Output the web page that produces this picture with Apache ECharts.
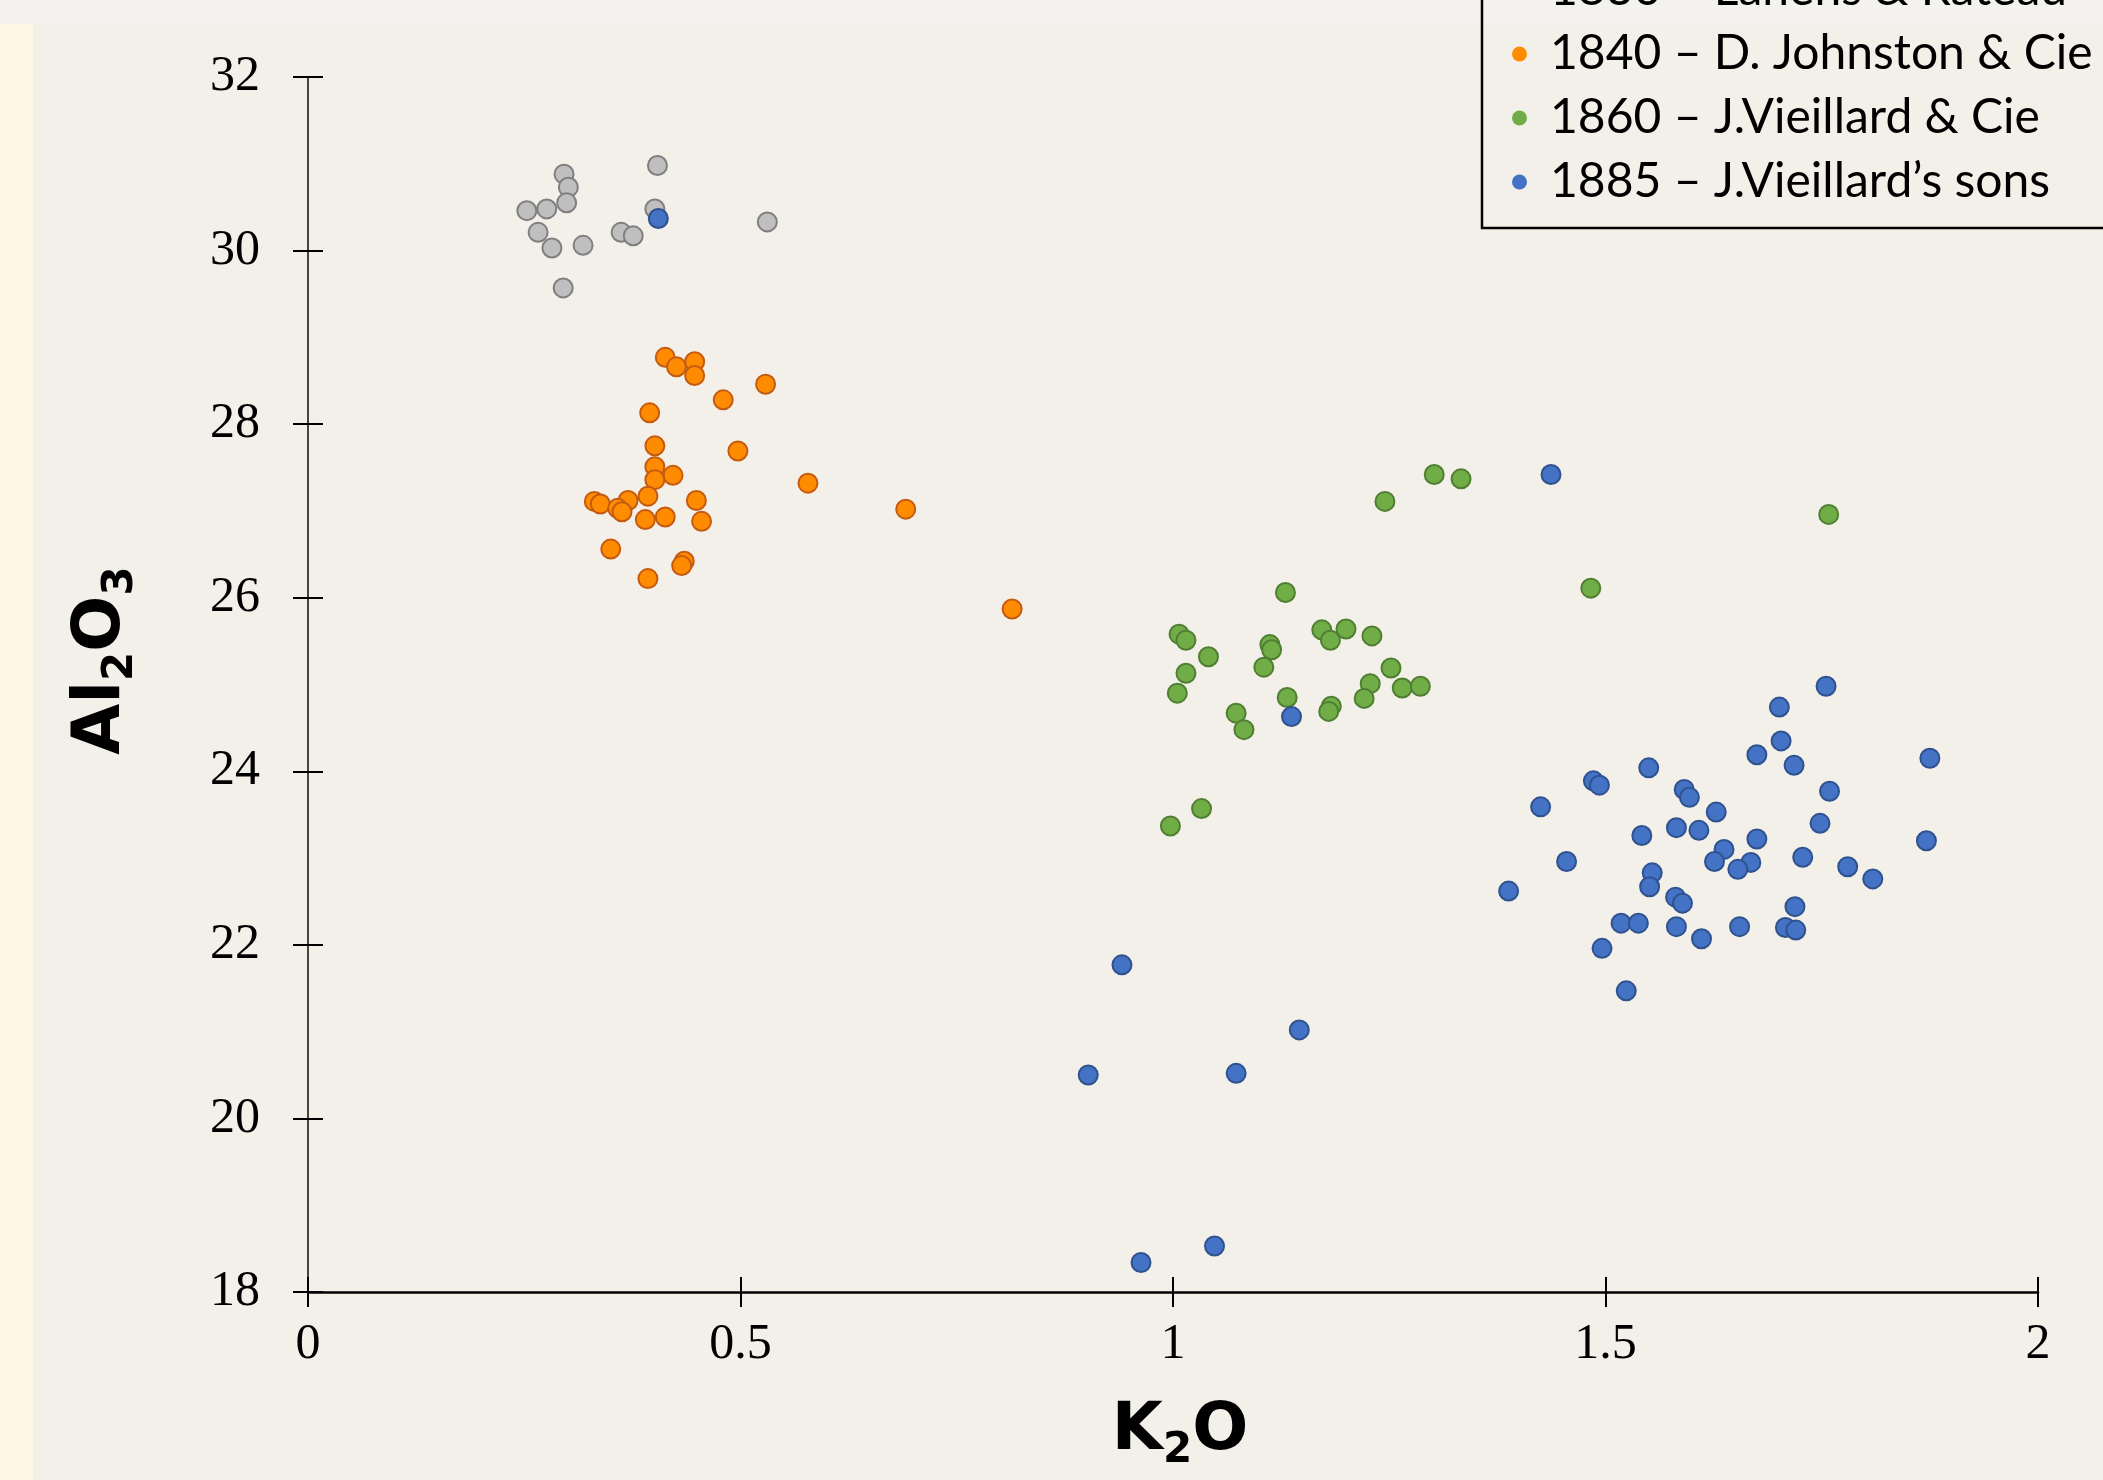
<!DOCTYPE html>
<html>
<head>
<meta charset="utf-8">
<script src="https://cdn.jsdelivr.net/npm/echarts@6/dist/echarts.min.js"></script>
<style>
html,body{margin:0;padding:0;background:#f3f0e9;}
#chart{width:2103px;height:1480px;}
</style>
</head>
<body>
<div id="chart"></div>
<script>
// ---- Data (K2O wt%, Al2O3 wt%) ----
const seriesNames = ['1830 – Lahens & Rateau', '1840 – D. Johnston & Cie', '1860 – J.Vieillard & Cie', '1885 – J.Vieillard’s sons'];

const lahensK2O = [0.296,0.301,0.299,0.253,0.276,0.266,0.282,0.318,0.295,0.404,0.401,0.362,0.376,0.531];
const lahensAl2O3 = [30.88,30.73,30.55,30.46,30.48,30.21,30.03,30.06,29.57,30.98,30.48,30.21,30.17,30.33];

const johnstonK2O = [0.413,0.426,0.447,0.447,0.529,0.480,0.395,0.401,0.497,0.401,0.422,0.401,0.578,0.393,0.331,0.338,0.370,0.358,0.363,0.449,0.390,0.413,0.455,0.350,0.435,0.432,0.393,0.691,0.814];
const johnstonAl2O3 = [28.77,28.66,28.72,28.56,28.46,28.28,28.13,27.75,27.69,27.51,27.41,27.36,27.32,27.17,27.11,27.08,27.12,27.03,26.99,27.12,26.90,26.93,26.88,26.56,26.42,26.37,26.22,27.02,25.87];

const vieillardK2O = [1.130,1.007,1.015,1.041,1.015,1.005,1.112,1.114,1.105,1.172,1.182,1.200,1.230,1.252,1.228,1.221,1.265,1.286,1.132,1.183,1.180,1.073,1.082,1.033,0.997,1.483,1.302,1.333,1.245,1.758];
const vieillardAl2O3 = [26.06,25.58,25.51,25.32,25.13,24.90,25.46,25.40,25.20,25.63,25.51,25.64,25.56,25.19,25.01,24.84,24.96,24.98,24.85,24.75,24.69,24.67,24.48,23.57,23.37,26.11,27.42,27.37,27.11,26.96];

const sonsK2O = [1.755,1.701,1.703,1.675,1.718,1.875,1.550,1.486,1.493,1.759,1.591,1.597,1.628,1.425,1.748,1.542,1.582,1.608,1.675,1.637,1.626,1.668,1.653,1.728,1.871,1.780,1.809,1.455,1.554,1.551,1.388,1.581,1.589,1.719,1.518,1.538,1.582,1.655,1.708,1.720,1.611,1.496,1.524,0.941,0.902,1.073,1.146,0.963,1.048,1.137,0.405,1.437];
const sonsAl2O3 = [24.98,24.74,24.35,24.19,24.07,24.15,24.04,23.89,23.84,23.77,23.79,23.70,23.53,23.59,23.40,23.26,23.35,23.32,23.22,23.10,22.96,22.95,22.87,23.01,23.20,22.90,22.76,22.96,22.83,22.67,22.62,22.55,22.48,22.44,22.25,22.25,22.21,22.21,22.20,22.17,22.07,21.96,21.47,21.77,20.50,20.52,21.02,18.34,18.53,24.63,30.37,27.42];

const xTicks = [0, 0.5, 1, 1.5, 2];
const yTicks = [18, 20, 22, 24, 26, 28, 30, 32];

// ---- styling ----
const fills = ['#bfbfbf', '#ff8c00', '#70ad47', '#4472c4'];
const borders = ['#7f7f7f', '#c55a11', '#507e32', '#2f528f'];

function zip(xs, ys) { return xs.map((x, i) => [x, ys[i]]); }
const allData = [zip(lahensK2O, lahensAl2O3), zip(johnstonK2O, johnstonAl2O3), zip(vieillardK2O, vieillardAl2O3), zip(sonsK2O, sonsAl2O3)];

const gridBox = {left: 308, right: 65, top: 77, bottom: 188};
const tickFont = {fontFamily: 'Liberation Serif', fontSize: 50, color: '#000'};
const nameRich = {
  b: {fontFamily: 'DejaVu Sans', fontWeight: 'bold', fontSize: 66, color: '#000', lineHeight: 80, verticalAlign: 'middle'},
  s: {fontFamily: 'DejaVu Sans', fontWeight: 'bold', fontSize: 42, color: '#000', lineHeight: 40, verticalAlign: 'bottom'}
};

const chart = echarts.init(document.getElementById('chart'), null, {renderer: 'canvas'});
chart.setOption({
  backgroundColor: '#f3f0e9',
  animation: false,
  grid: [
    Object.assign({outerBoundsMode: 'none'}, gridBox),
    Object.assign({outerBoundsMode: 'none'}, gridBox)
  ],
  graphic: [
    {type: 'rect', z: -10, shape: {x: 0, y: 0, width: 33, height: 1480}, style: {fill: '#fff7e4'}},
    {type: 'rect', z: -9, shape: {x: 0, y: 0, width: 2103, height: 24}, style: {fill: '#f3f2ee'}},
    {type: 'rect', z: 5, shape: {x: 1482, y: -20, width: 700, height: 248}, style: {fill: 'none', stroke: '#000', lineWidth: 2.5}}
  ],
  legend: {
    orient: 'vertical',
    left: 1512,
    top: -42,
    padding: 0,
    itemGap: 0,
    itemWidth: 15,
    itemHeight: 15,
    icon: 'circle',
    itemStyle: {borderWidth: 0},
    textStyle: {fontFamily: 'Lato', fontSize: 48, color: '#000', lineHeight: 64, padding: [0, 0, 0, 18]},
    data: seriesNames
  },
  xAxis: [
    {
      type: 'value', gridIndex: 0, min: xTicks[0], max: xTicks[xTicks.length - 1], interval: 0.5,
      axisLine: {show: true, lineStyle: {color: '#000', width: 2.5}},
      axisTick: {show: true, inside: false, length: 15, lineStyle: {color: '#000', width: 2}},
      axisLabel: Object.assign({margin: 28}, tickFont),
      splitLine: {show: false},
      name: '{b|K}{s|2}{b|O}',
      nameLocation: 'middle',
      nameGap: 100,
      nameTextStyle: {padding: [0, 0, 0, 14], rich: nameRich}
    },
    {
      type: 'value', gridIndex: 1, min: xTicks[0], max: xTicks[xTicks.length - 1], interval: 0.5,
      axisLine: {show: false},
      axisTick: {show: true, inside: true, length: 15, lineStyle: {color: '#000', width: 2}},
      axisLabel: {show: false},
      splitLine: {show: false}
    }
  ],
  yAxis: [
    {
      type: 'value', gridIndex: 0, min: yTicks[0], max: yTicks[yTicks.length - 1], interval: 2,
      axisLine: {show: true, lineStyle: {color: '#444', width: 2}},
      axisTick: {show: true, inside: false, length: 15, lineStyle: {color: '#000', width: 2}},
      axisLabel: Object.assign({margin: 48}, tickFont),
      splitLine: {show: false},
      name: '{b|Al}{s|2}{b|O}{s|3}',
      nameLocation: 'middle',
      nameGap: 166,
      nameTextStyle: {padding: [0, 0, 0, 48], rich: nameRich}
    },
    {
      type: 'value', gridIndex: 1, min: yTicks[0], max: yTicks[yTicks.length - 1], interval: 2,
      axisLine: {show: false},
      axisTick: {show: true, inside: true, length: 15, lineStyle: {color: '#000', width: 2}},
      axisLabel: {show: false},
      splitLine: {show: false}
    }
  ],
  series: seriesNames.map((name, i) => ({
    name: name,
    type: 'scatter',
    xAxisIndex: 0,
    yAxisIndex: 0,
    symbol: 'circle',
    symbolSize: 19,
    z: 3 + i,
    itemStyle: {color: fills[i], borderColor: borders[i], borderWidth: 2, opacity: 1},
    emphasis: {disabled: true},
    data: allData[i]
  }))
});
</script>
</body>
</html>
